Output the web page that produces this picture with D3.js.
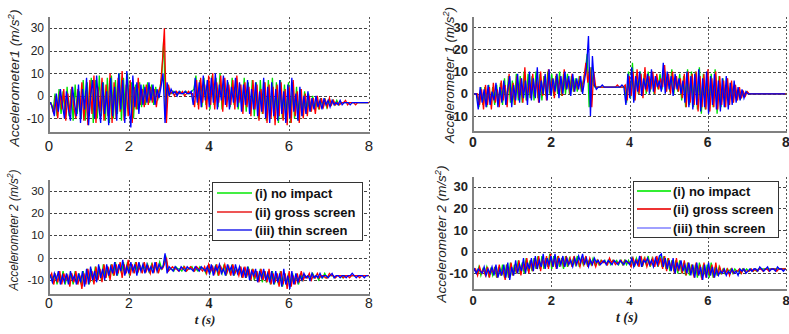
<!DOCTYPE html>
<html>
<head>
<meta charset="utf-8">
<script src="https://cdn.jsdelivr.net/npm/d3@7"></script>
<style>
  body { margin: 0; background: #fff; }
  svg { display: block; }
</style>
</head>
<body>
<script>

// acceleration samples (m/s^2), 160 per run over 0..8 s
var acc1_left_none = [
  -3, -3, -7, 1, -9, 3, -8, 2, -10, 4, -9, 3, -11, 5, -8, 2,
  -10, 7, -11, 6, -9, 8, -12, 7, -10, 9, -9, 6, -11, 8, -12, 9,
  -10, 7, -8, 10, -11, 8, -9, 10, -7, 6, -10, 5, -6, 6, -5, 5,
  -4, 6, -3, 5, -4, 4, -2, 3, 8, 25, -10, 4, 2, 1, 2, 1,
  1, 2, 1, 1, 2, 1, 1, 2, 3, 9, -4, 7, -5, 8, -4, 6,
  -6, 9, -4, 8, -5, 10, -6, 7, -4, 6, -5, 8, -4, 7, -6, 5,
  -6, 8, -7, 6, -8, 7, -9, 6, -10, 7, -8, 6, -11, 7, -9, 8,
  -10, 6, -12, 7, -10, 5, -11, 6, -12, 6, -10, 4, -11, 3, -9, 2,
  -8, 1, -7, 0, -6, -1, -6, -1, -5, -1, -5, -2, -4, -2, -4, -2,
  -4, -3, -3, -3, -3, -3, -3, -3, -3, -3, -3, -3, -3, -3, -3, -3
];
var acc1_left_gross = [
  -3, -4, -8, 0, -10, 2, -6, 3, -11, 1, -8, 4, -5, -10, 3, -7,
  6, -11, 2, -13, 7, -8, 9, -12, 4, -7, 8, -11, 5, -9, 10, -12,
  6, -10, 8, -7, 11, -11, 5, -9, 7, -12, 4, -6, 8, -4, 3, -5,
  5, -4, 4, -3, 3, -5, 2, 4, 15, 30, -12, 5, 1, 2, 0, 2,
  1, 1, 2, 0, 1, 2, 1, 1, -5, 7, -6, 8, -3, 5, -6, 9,
  -4, 10, -6, 6, -3, 9, -7, 8, -5, 5, -4, 7, -6, 9, -3, 5,
  -8, 6, -5, 4, -9, 7, -6, 5, -11, 3, -8, 6, -12, 5, -10, 4,
  -13, 5, -9, 6, -11, 3, -13, 4, -12, 7, -9, 2, -12, 3, -10, 1,
  -9, 0, -7, -1, -8, 0, -6, -1, -5, -2, -5, -1, -4, -2, -4, -3,
  -4, -3, -3, -2, -4, -3, -3, -3, -4, -3, -3, -3, -3, -3, -3, -3
];
var acc1_left_thin = [
  -3, -3, -5, -9, 1, -7, 3, -4, -10, 2, -6, -11, 4, -3, -9, 5,
  -12, 3, -6, 8, -13, 0, 7, -10, 9, -4, -12, 6, -8, 2, -13, 8,
  -9, 4, -11, 10, -6, 7, -12, 11, -3, -14, 9, -5, 6, -8, 5, -4,
  4, -3, 6, -2, 5, -4, 3, -1, 4, 10, -12, 6, 0, 3, 1, 2,
  0, 2, 1, 1, 2, 1, 1, 2, -4, 8, -3, 6, -5, 9, -2, 7,
  -5, 8, -3, 10, -6, 5, -2, 9, -4, 7, -6, 4, -3, 8, -5, 6,
  -7, 5, -4, 7, -8, 3, -6, 6, -9, 2, -7, 8, -10, 4, -12, 6,
  -9, 3, -11, 7, -8, 2, -12, 5, -10, 8, -7, 1, -11, 4, -9, 0,
  -8, 2, -7, -1, -6, 0, -5, -2, -6, -1, -4, -2, -5, -2, -4, -3,
  -4, -2, -4, -3, -3, -3, -4, -3, -3, -3, -3, -3, -3, -3, -3, -3
];

var acc1_right_none = [
  0, 0, 0, -6, 3, -5, 3, -6, 4, -5, 3, -5, 4, -4, 5, -5,
  7, -5, 8, -4, 6, -5, 9, -3, 8, -4, 10, -3, 9, -2, 8, -3,
  10, -2, 9, -3, 8, -1, 10, 0, 9, -1, 8, 0, 10, -1, 9, 0,
  9, 0, 8, 1, 7, 1, 8, 1, 6, 10, 18, -6, 12, 4, 3, 3,
  3, 3, 3, 3, 3, 3, 3, 3, 3, 3, 3, 3, 3, 3, -4, 10,
  -2, 14, -3, 9, 0, 10, -1, 9, 0, 10, 1, 9, 0, 8, 2, 9,
  2, 12, 1, 9, 1, 11, 0, 8, 1, 9, -3, 8, -6, 11, -5, 10,
  -6, 10, -7, 12, -9, 9, -7, 10, -8, 9, -6, 11, -9, 8, -6, 7,
  -6, 7, -5, 5, -4, 4, -3, 2, -2, 1, -1, 1, 0, 0, 0, 0,
  0, 0, 0, 0, 0, 0, 0, 0, 0, 0, 0, 0, 0, 0, 0, 0
];
var acc1_right_gross = [
  0, 0, 0, -5, 2, -7, 4, -5, 3, -7, 5, -4, 2, -6, 6, -3,
  4, -6, 9, -3, 5, -5, 8, -2, 7, -4, 12, -3, 6, -2, 9, -1,
  7, -4, 10, -1, 8, -3, 11, 0, 7, -2, 9, 1, 8, -1, 11, 2,
  7, 0, 9, 1, 6, 2, 8, 1, 7, 14, 5, 12, -6, 10, 3, 3,
  3, 3, 3, 3, 3, 3, 3, 3, 3, 4, 3, 3, 3, 4, -3, 8,
  -1, 10, -3, 11, 0, 9, -2, 12, 1, 8, 2, 10, 0, 9, 2, 7,
  3, 13, 1, 9, 0, 10, 2, 8, 1, 7, -2, 9, -6, 10, -4, 9,
  -5, 10, -8, 8, -6, 9, -7, 11, -8, 7, -6, 10, -7, 8, -5, 6,
  -6, 7, -5, 6, -4, 4, -3, 3, -2, 1, -1, 1, 0, 0, 0, 0,
  0, 0, 0, 0, 0, 0, 0, 0, 0, 0, 0, 0, 0, 0, 0, 0
];
var acc1_right_thin = [
  0, 0, 0, -7, 3, -4, 2, -6, 4, -5, 1, -3, 5, -6, 3, -4,
  6, -5, 2, 8, -6, 4, -3, 9, -4, 7, -2, 6, -5, 10, -3, 7,
  -2, 12, -4, 6, 0, 9, -3, 11, -1, 7, 1, 9, -2, 8, 0, 10,
  2, 8, -1, 9, 1, 7, 2, 8, 0, 6, 12, 26, -10, 17, 4, 2,
  3, 3, 4, 3, 3, 3, 3, 3, 3, 3, 3, 3, 4, 3, -5, 9,
  -2, 12, -4, 8, 1, 10, -1, 7, 2, 9, 0, 11, 1, 8, 3, 6,
  1, 14, 0, 10, 2, 8, -1, 9, 2, 7, 0, 6, -4, 10, -6, 8,
  -7, 9, -5, 11, -8, 7, -6, 10, -9, 8, -5, 9, -7, 6, -8, 7,
  -6, 8, -7, 5, -5, 6, -4, 3, -3, 2, -2, 1, 0, 0, 0, 0,
  0, 0, 0, 0, 0, 0, 0, 0, 0, 0, 0, 0, 0, 0, 0, 0
];

var acc2_left_none = [
  -9, -8, -11, -7, -12, -7, -11, -6, -12, -8, -11, -7, -12, -6, -11, -7,
  -12, -6, -11, -5, -12, -5, -11, -4, -10, -4, -10, -3, -9, -4, -9, -3,
  -8, -2, -8, -3, -7, -2, -7, -2, -8, -3, -6, -2, -7, -3, -6, -3,
  -6, -3, -7, -3, -6, -3, -6, -2, -5, -3, 1, -6, -5, -5, -6, -4,
  -5, -5, -6, -4, -6, -5, -5, -4, -6, -5, -6, -4, -5, -5, -7, -4,
  -7, -4, -6, -3, -8, -4, -7, -3, -8, -4, -7, -3, -8, -5, -7, -4,
  -9, -5, -9, -4, -10, -5, -10, -6, -10, -5, -11, -6, -11, -6, -12, -6,
  -12, -7, -12, -6, -13, -8, -12, -7, -13, -7, -11, -8, -12, -7, -10, -8,
  -9, -8, -9, -7, -9, -8, -10, -8, -9, -7, -9, -8, -8, -8, -9, -8,
  -8, -8, -9, -8, -8, -8, -8, -8, -8, -8, -8, -8, -8, -8, -8, -8
];
var acc2_left_gross = [
  -9, -7, -12, -8, -11, -6, -12, -7, -10, -8, -13, -7, -11, -6, -12, -8,
  -14, -7, -12, -5, -11, -6, -12, -4, -10, -5, -11, -3, -9, -4, -10, -3,
  -8, -3, -7, -2, -9, -3, -7, -1, -8, -3, -7, -2, -6, -4, -7, -2,
  -6, -4, -7, -3, -6, -2, -7, -4, -5, -3, 0, -6, -5, -4, -5, -5,
  -6, -5, -5, -4, -6, -5, -4, -5, -6, -4, -5, -5, -6, -4, -7, -3,
  -6, -4, -7, -3, -8, -4, -6, -3, -7, -4, -8, -3, -7, -5, -8, -4,
  -9, -4, -8, -5, -10, -5, -9, -6, -11, -5, -10, -6, -11, -5, -12, -7,
  -11, -7, -13, -6, -12, -7, -14, -6, -13, -8, -12, -7, -11, -6, -10, -8,
  -9, -7, -10, -8, -9, -7, -9, -8, -8, -9, -9, -7, -8, -8, -9, -8,
  -8, -8, -9, -8, -8, -9, -8, -8, -8, -8, -9, -8, -8, -8, -8, -8
];
var acc2_left_thin = [
  -9, -8, -11, -7, -10, -6, -12, -8, -11, -7, -12, -6, -10, -8, -12, -7,
  -11, -6, -13, -5, -12, -4, -10, -6, -11, -3, -9, -5, -10, -3, -8, -4,
  -7, -2, -8, -3, -6, -1, -8, -4, -7, -2, -6, -3, -8, -2, -6, -3,
  -7, -3, -6, -4, -7, -2, -6, -3, -5, -4, 2, -7, -4, -5, -6, -4,
  -5, -6, -4, -5, -6, -4, -5, -5, -6, -4, -5, -6, -4, -5, -6, -4,
  -7, -3, -8, -4, -6, -3, -7, -5, -8, -3, -6, -4, -8, -3, -7, -4,
  -8, -5, -9, -4, -10, -6, -8, -5, -11, -6, -9, -5, -10, -7, -11, -6,
  -12, -6, -11, -7, -13, -5, -12, -8, -14, -6, -12, -7, -11, -8, -10, -7,
  -9, -8, -10, -7, -9, -8, -9, -7, -9, -8, -8, -9, -8, -7, -9, -8,
  -8, -9, -8, -8, -9, -8, -8, -7, -8, -9, -8, -8, -8, -9, -8, -8
];

var acc2_right_none = [
  -8, -8, -10, -7, -11, -8, -10, -7, -11, -8, -11, -7, -12, -7, -11, -6,
  -12, -6, -12, -5, -11, -6, -10, -4, -10, -5, -10, -3, -9, -4, -9, -3,
  -8, -2, -8, -2, -8, -3, -7, -1, -8, -2, -7, -2, -7, -3, -8, -2,
  -7, -3, -6, -3, -6, -2, -7, -3, -6, -3, -6, -4, -6, -3, -6, -4,
  -6, -4, -5, -4, -6, -4, -6, -4, -5, -4, -6, -4, -6, -4, -6, -4,
  -6, -3, -7, -3, -6, -3, -7, -3, -6, -2, -7, -3, -6, -3, -7, -2,
  -7, -2, -8, -3, -9, -4, -9, -4, -10, -4, -10, -5, -11, -5, -11, -6,
  -11, -6, -12, -5, -12, -6, -11, -6, -12, -5, -12, -7, -11, -7, -10, -8,
  -10, -8, -9, -8, -10, -8, -9, -9, -10, -8, -9, -8, -9, -8, -9, -8,
  -9, -8, -8, -8, -8, -8, -8, -8, -8, -8, -8, -8, -8, -8, -8, -8
];
var acc2_right_gross = [
  -9, -8, -11, -7, -10, -8, -11, -7, -12, -8, -10, -7, -12, -6, -11, -8,
  -13, -6, -12, -5, -11, -7, -10, -4, -11, -5, -9, -3, -10, -4, -9, -3,
  -8, -2, -9, -3, -7, -2, -8, -1, -7, -3, -8, -2, -6, -3, -7, -2,
  -6, -3, -7, -2, -6, -4, -7, -3, -6, -2, -7, -3, -6, -4, -7, -4,
  -6, -4, -5, -5, -6, -3, -5, -4, -6, -5, -5, -4, -6, -4, -5, -5,
  -7, -3, -6, -4, -7, -2, -6, -3, -7, -4, -6, -3, -7, -2, -6, -3,
  -8, -2, -9, -3, -8, -4, -10, -3, -9, -5, -10, -4, -11, -5, -10, -6,
  -12, -5, -11, -6, -13, -5, -12, -7, -11, -6, -12, -5, -11, -7, -10, -8,
  -10, -8, -11, -8, -10, -9, -9, -8, -10, -8, -9, -9, -9, -8, -9, -8,
  -9, -8, -8, -9, -8, -8, -9, -8, -8, -8, -9, -8, -8, -8, -8, -8
];
var acc2_right_thin = [
  -9, -8, -10, -8, -9, -10, -7, -11, -8, -10, -7, -11, -6, -12, -8, -11,
  -6, -12, -5, -13, -7, -11, -4, -10, -6, -9, -3, -10, -5, -8, -3, -9,
  -2, -8, -4, -7, -1, -8, -3, -6, -2, -7, -1, -8, -3, -6, -2, -7,
  -3, -6, -4, -7, -3, -6, -2, -5, -1, -6, -3, -7, -4, -6, -3, -5,
  -4, -6, -5, -4, -6, -4, -5, -6, -4, -5, -6, -4, -5, -6, -4, -5,
  -6, -3, -7, -4, -6, -2, -7, -4, -5, -3, -6, -4, -7, -3, -6, -2,
  -1, -7, -3, -8, -4, -9, -3, -10, -5, -8, -4, -9, -6, -10, -5, -11,
  -6, -12, -5, -11, -7, -13, -6, -12, -5, -11, -7, -12, -8, -11, -9, -10,
  -8, -11, -9, -10, -8, -10, -9, -11, -8, -9, -8, -10, -9, -8, -9, -8,
  -8, -9, -7, -8, -9, -8, -7, -9, -8, -8, -9, -7, -8, -8, -9, -8
];

var xTicks = [0, 2, 4, 6, 8];
var yTicks = [-10, 0, 10, 20, 30];
var legendNames = ["(i) no impact", "(ii) gross screen", "(iii) thin screen"];

// sample instants; the three runs were logged slightly out of step
var time = d3.range(160).map(function(i) { return i * 8 / 159; });
var runShift = [0, 0.017, -0.017];

var svg = d3.select("body")
  .append("svg")
  .attr("width", 789)
  .attr("height", 334);

var sans = "'Liberation Sans', Arial, sans-serif";
var serif = "'Liberation Serif', 'Times New Roman', serif";

var panels = [
  { left: 49, right: 369, top: 17, bottom: 133, ymin: -16.5, ymax: 35,
    series: [acc1_left_none, acc1_left_gross, acc1_left_thin],
    label: "Accelerometer1 ", labelX: 14, labelY: 78, labelLen: 137, labelSize: 13.5,
    yFont: 12, yBold: false, xFont: 15, xBold: false, xBase: 151 },
  { left: 473, right: 786, top: 17, bottom: 132, ymin: -17.2, ymax: 34.6,
    series: [acc1_right_none, acc1_right_gross, acc1_right_thin],
    label: "Accelerometer 1 ", labelX: 449, labelY: 75, labelLen: 136, labelSize: 13.5,
    yFont: 13, yBold: true, xFont: 14, xBold: true, xBase: 147 },
  { left: 49, right: 369, top: 180, bottom: 295, ymin: -16.7, ymax: 34.8,
    series: [acc2_left_none, acc2_left_gross, acc2_left_thin],
    label: "Accelerometer 2 ", labelX: 14, labelY: 230, labelLen: 121, labelSize: 12,
    yFont: 11.5, yBold: false, xFont: 14, xBold: false, xBase: 308,
    xlab: { x: 205, y: 324, size: 13 },
    legend: { x: 212, y: 182, w: 150, h: 58, rows: [193, 212, 230], x1: 217, x2: 252, tx: 255,
              colors: ["#44ee44", "#ee5555", "#5a5af0"] } },
  { left: 473, right: 786, top: 177, bottom: 290, ymin: -17.7, ymax: 34.5,
    series: [acc2_right_none, acc2_right_gross, acc2_right_thin],
    label: "Accelerometer 2 ", labelX: 441, labelY: 234, labelLen: 137, labelSize: 13.5,
    yFont: 13, yBold: true, xFont: 13, xBold: true, xBase: 305,
    xlab: { x: 627, y: 322, size: 14 },
    legend: { x: 633, y: 181, w: 145, h: 56, rows: [191, 209, 228], x1: 637, x2: 671, tx: 673,
              colors: ["#33ee33", "#ee3333", "#a0a0ff"] } }
];

var lineColors = ["#00e000", "#ff0000", "#0000ff"];

panels.forEach(function(p, k) {

  var x = d3.scaleLinear().domain([0, 8]).range([p.left, p.right]);
  var y = d3.scaleLinear().domain([p.ymin, p.ymax]).range([p.bottom, p.top]);

  var g = svg.append("g");

  g.append("clipPath")
    .attr("id", "clip" + k)
    .append("rect")
      .attr("x", p.left)
      .attr("y", p.top)
      .attr("width", p.right - p.left)
      .attr("height", p.bottom - p.top);

  // grid
  g.selectAll(".hgrid")
    .data(yTicks)
    .enter().append("line")
      .attr("x1", p.left)
      .attr("x2", p.right)
      .attr("y1", function(d) { return Math.round(y(d)) + 0.5; })
      .attr("y2", function(d) { return Math.round(y(d)) + 0.5; })
      .attr("stroke", "#444")
      .attr("stroke-dasharray", "3,2");

  g.selectAll(".vgrid")
    .data(xTicks.slice(1))
    .enter().append("line")
      .attr("x1", function(d) { return Math.round(x(d)) + 0.5; })
      .attr("x2", function(d) { return Math.round(x(d)) + 0.5; })
      .attr("y1", p.top)
      .attr("y2", p.bottom)
      .attr("stroke", "#555")
      .attr("stroke-dasharray", "2,2");

  // signals
  var plot = g.append("g").attr("clip-path", "url(#clip" + k + ")");
  p.series.forEach(function(s, j) {
    var line = d3.line()
      .x(function(d, i) { return x(Math.max(0, time[i] + runShift[j])); })
      .y(function(d) { return y(d); });
    plot.append("path")
      .datum(s)
      .attr("d", line)
      .attr("fill", "none")
      .attr("stroke", lineColors[j])
      .attr("stroke-width", 1.3);
  });

  // axes
  g.append("line")
    .attr("x1", p.left)
    .attr("x2", p.left)
    .attr("y1", p.top)
    .attr("y2", p.bottom + 1)
    .attr("stroke", "#808080")
    .attr("stroke-width", 2);
  g.append("line")
    .attr("x1", p.left)
    .attr("x2", p.right + 1)
    .attr("y1", p.bottom)
    .attr("y2", p.bottom)
    .attr("stroke", "#808080")
    .attr("stroke-width", 2);

  g.selectAll(".ylab")
    .data(yTicks)
    .enter().append("text")
      .attr("x", p.left - 5)
      .attr("y", function(d) { return y(d); })
      .attr("dy", "0.35em")
      .attr("text-anchor", "end")
      .attr("font-family", sans)
      .attr("font-size", p.yFont)
      .attr("font-weight", p.yBold ? "bold" : "normal")
      .attr("fill", "#222")
      .text(function(d) { return d; });

  g.selectAll(".xlab")
    .data(xTicks)
    .enter().append("text")
      .attr("x", function(d) { return x(d); })
      .attr("y", p.xBase)
      .attr("text-anchor", "middle")
      .attr("font-family", function(d) { return d === 4 ? serif : sans; })
      .attr("font-size", p.xFont)
      .attr("font-weight", function(d) { return (d === 4 || p.xBold) ? "bold" : "normal"; })
      .attr("fill", "#222")
      .text(function(d) { return d; });

  // y axis title
  var yt = g.append("text")
    .attr("transform", "translate(" + p.labelX + "," + p.labelY + ") rotate(-90)")
    .attr("text-anchor", "middle")
    .attr("dy", "0.35em")
    .attr("font-family", sans)
    .attr("font-style", "italic")
    .attr("font-size", p.labelSize)
    .attr("fill", "#222")
    .attr("textLength", p.labelLen)
    .attr("lengthAdjust", "spacingAndGlyphs");
  yt.append("tspan").text(p.label + "(m/s");
  yt.append("tspan").attr("baseline-shift", "super").attr("font-size", p.labelSize * 0.7).text("2");
  yt.append("tspan").text(")");

  if (p.xlab) {
    g.append("text")
      .attr("x", p.xlab.x)
      .attr("y", p.xlab.y)
      .attr("text-anchor", "middle")
      .attr("font-family", serif)
      .attr("font-style", "italic")
      .attr("font-weight", "bold")
      .attr("font-size", p.xlab.size)
      .attr("fill", "#222")
      .text("t (s)");
  }

  if (p.legend) {
    var L = p.legend;
    g.append("rect")
      .attr("x", L.x + 0.5)
      .attr("y", L.y + 0.5)
      .attr("width", L.w)
      .attr("height", L.h)
      .attr("fill", "#fff")
      .attr("stroke", "#333");
    legendNames.forEach(function(name, j) {
      g.append("line")
        .attr("x1", L.x1)
        .attr("x2", L.x2)
        .attr("y1", L.rows[j])
        .attr("y2", L.rows[j])
        .attr("stroke", L.colors[j])
        .attr("stroke-width", 2);
      g.append("text")
        .attr("x", L.tx)
        .attr("y", L.rows[j])
        .attr("dy", "0.35em")
        .attr("font-family", sans)
        .attr("font-weight", "bold")
        .attr("font-size", 13)
        .attr("fill", "#111")
        .text(name);
    });
  }
});

</script>
</body>
</html>
